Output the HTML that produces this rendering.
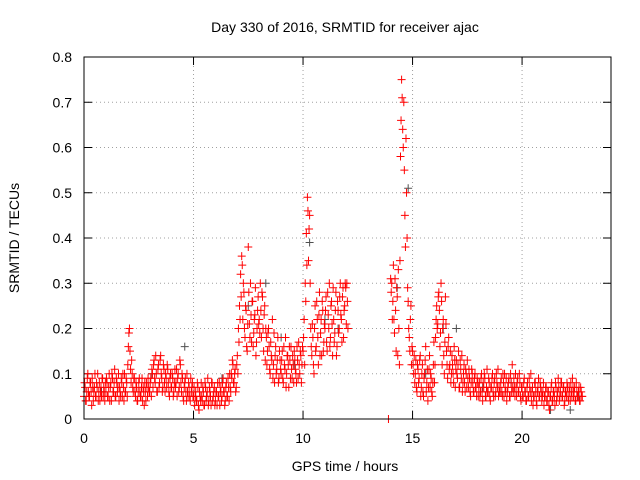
<!DOCTYPE html>
<html><head><meta charset="utf-8"><style>
html,body{margin:0;padding:0;background:#fff}
svg{display:block;font-family:"Liberation Sans",sans-serif}
</style></head><body>
<svg id="chart" width="640" height="480" viewBox="0 0 640 480" xmlns="http://www.w3.org/2000/svg">
<rect width="640" height="480" fill="#fff"/>
<text x="345" y="32" text-anchor="middle" font-size="14">Day 330 of 2016, SRMTID for receiver ajac</text>
<g id="grid"></g>
<g id="ticks"></g>
<g id="marks"></g>
<rect x="84" y="57" width="527" height="362" fill="none" stroke="#000" stroke-width="1"/>
<text x="345" y="471" text-anchor="middle" font-size="14">GPS time / hours</text>
<text x="0" y="0" transform="translate(19,238) rotate(-90)" text-anchor="middle" font-size="14">SRMTID / TECUs</text>
</svg>
<script>
const xTicks=[0,5,10,15,20];
const yTicks=[0,0.1,0.2,0.3,0.4,0.5,0.6,0.7,0.8];
const yTickLabels=["0","0.1","0.2","0.3","0.4","0.5","0.6","0.7","0.8"];
const redStart=0, redStep=0.05;
const redValues=[
0.05,0.07,0.04,0.09,0.06,0.05,0.08,0.03,0.07,0.06,0.1,0.05,0.07,0.04,0.08,0.06,0.05,0.09,0.07,0.04,
0.06,0.08,0.05,0.1,0.07,0.04,0.09,0.06,0.11,0.05,0.08,0.07,0.04,0.06,0.09,0.05,0.07,0.1,0.06,0.08,
0.12,0.19,0.15,0.08,0.1,0.06,0.09,0.05,0.07,0.04,0.08,0.06,0.05,0.09,0.07,0.03,0.06,0.08,0.05,0.07,
0.06,0.09,0.11,0.07,0.13,0.08,0.1,0.06,0.12,0.08,0.14,0.09,0.07,0.11,0.06,0.09,0.12,0.08,0.05,0.1,
0.07,0.09,0.06,0.11,0.08,0.05,0.1,0.07,0.12,0.06,0.09,0.04,0.08,0.06,0.1,0.05,0.07,0.04,0.06,0.08,
0.05,0.03,0.06,0.04,0.07,0.02,0.05,0.08,0.04,0.06,0.03,0.07,0.05,0.09,0.04,0.06,0.03,0.08,0.05,0.07,
0.04,0.06,0.08,0.05,0.03,0.07,0.05,0.09,0.06,0.04,0.08,0.05,0.07,0.1,0.06,0.09,0.12,0.08,0.11,0.07,
0.14,0.2,0.25,0.32,0.36,0.22,0.28,0.18,0.24,0.15,0.38,0.21,0.3,0.17,0.26,0.19,0.23,0.14,0.2,0.27,
0.22,0.3,0.18,0.27,0.15,0.25,0.2,0.12,0.19,0.16,0.1,0.14,0.22,0.12,0.08,0.16,0.11,0.18,0.09,0.13,
0.1,0.15,0.08,0.12,0.18,0.1,0.14,0.07,0.13,0.16,0.09,0.12,0.15,0.11,0.08,0.13,0.17,0.1,0.14,0.12,
0.15,0.22,0.3,0.41,0.49,0.35,0.45,0.2,0.14,0.18,0.1,0.25,0.16,0.22,0.12,0.28,0.19,0.14,0.24,0.17,
0.2,0.27,0.15,0.23,0.3,0.18,0.26,0.14,0.22,0.19,0.28,0.16,0.24,0.2,0.3,0.22,0.27,0.18,0.25,0.29,
0.3,0.2,null,null,null,null,null,null,null,null,null,null,null,null,null,null,null,null,null,null,
null,null,null,null,null,null,null,null,null,null,null,null,null,null,null,null,null,null,0,null,
0.31,0.3,0.26,0.22,0.31,0.15,0.27,0.33,0.12,0.58,0.75,0.64,0.7,0.45,0.62,0.4,0.26,0.18,0.22,0.12,
0.15,0.1,0.08,0.13,0.06,0.11,0.09,0.14,0.07,0.12,0.05,0.1,0.16,0.08,0.04,0.11,0.07,0.09,0.05,0.12,
0.08,0.18,0.25,0.21,0.28,0.16,0.3,0.12,0.22,0.1,0.27,0.15,0.09,0.18,0.12,0.08,0.14,0.1,0.16,0.07,
0.13,0.09,0.15,0.07,0.11,0.14,0.08,0.12,0.06,0.1,0.13,0.07,0.09,0.05,0.11,0.08,0.06,0.1,0.07,0.09,
0.05,0.08,0.06,0.1,0.04,0.07,0.09,0.05,0.11,0.06,0.08,0.04,0.07,0.1,0.05,0.09,0.06,0.08,0.11,0.07,
0.06,0.09,0.05,0.08,0.1,0.06,0.04,0.07,0.09,0.05,0.08,0.12,0.06,0.07,0.1,0.05,0.09,0.06,0.08,0.04,
0.07,0.05,0.09,0.06,0.04,0.08,0.05,0.07,0.1,0.06,0.03,0.05,0.08,0.04,0.06,0.09,0.05,0.07,0.04,0.06,
0.03,0.05,0.07,0.04,0.06,0.02,0.05,0.08,0.04,0.06,0.03,0.07,0.05,0.09,0.04,0.06,0.08,0.05,0.07,0.04,
0.06,0.08,0.05,0.07,0.04,0.06,0.09,0.05,0.07,0.04,0.06,0.05,0.07,0.04,0.06,0.05
];
const red2Start=0.025, red2Step=0.05;
const redValues2=[
0.08,0.04,0.06,0.1,0.05,0.08,0.06,0.09,0.04,0.07,0.05,0.08,0.1,0.06,0.04,0.07,0.09,0.05,0.06,0.08,
0.09,0.05,0.07,0.04,0.08,0.1,0.06,0.08,0.05,0.09,0.06,0.1,0.07,0.05,0.08,0.1,0.04,0.06,0.09,0.05,
0.16,0.2,0.11,0.13,0.07,0.09,0.06,0.08,0.04,0.06,0.09,0.05,0.07,0.04,0.06,0.08,0.04,0.07,0.09,0.06,
0.08,0.05,0.1,0.12,0.09,0.14,0.06,0.11,0.07,0.13,0.1,0.06,0.12,0.08,0.1,0.07,0.11,0.06,0.09,0.07,
0.1,0.05,0.08,0.07,0.11,0.09,0.06,0.13,0.08,0.1,0.05,0.07,0.09,0.04,0.06,0.08,0.05,0.09,0.07,0.05,
0.07,0.05,0.04,0.08,0.03,0.06,0.04,0.05,0.07,0.03,0.08,0.04,0.06,0.03,0.07,0.05,0.08,0.04,0.06,0.03,
0.06,0.03,0.05,0.08,0.06,0.04,0.08,0.06,0.03,0.07,0.05,0.09,0.04,0.07,0.1,0.13,0.08,0.1,0.06,0.12,
0.1,0.17,0.22,0.27,0.34,0.3,0.2,0.25,0.16,0.21,0.28,0.18,0.23,0.26,0.16,0.22,0.29,0.17,0.24,0.21,
0.19,0.24,0.28,0.2,0.23,0.13,0.18,0.15,0.2,0.11,0.17,0.13,0.09,0.19,0.14,0.1,0.13,0.08,0.15,0.11,
0.13,0.09,0.16,0.11,0.07,0.14,0.12,0.16,0.09,0.11,0.14,0.08,0.13,0.1,0.16,0.09,0.12,0.15,0.08,0.16,
0.18,0.12,0.26,0.34,0.46,0.42,0.3,0.16,0.21,0.12,0.2,0.15,0.26,0.18,0.23,0.14,0.22,0.26,0.15,0.21,
0.24,0.17,0.28,0.2,0.16,0.25,0.21,0.29,0.17,0.24,0.14,0.26,0.19,0.27,0.23,0.17,0.29,0.24,0.3,0.21,
0.26,null,null,null,null,null,null,null,null,null,null,null,null,null,null,null,null,null,null,null,
null,null,null,null,null,null,null,null,null,null,null,null,null,null,null,null,null,null,null,null,
0.28,0.22,0.34,0.19,0.24,0.29,0.14,0.2,0.35,0.66,0.71,0.6,0.55,0.38,0.5,0.29,0.2,0.15,0.25,0.16,
0.12,0.14,0.1,0.07,0.12,0.08,0.13,0.05,0.1,0.06,0.09,0.13,0.06,0.11,0.07,0.14,0.1,0.06,0.08,0.17,
0.12,0.22,0.2,0.27,0.24,0.19,0.26,0.2,0.14,0.17,0.21,0.12,0.16,0.11,0.15,0.1,0.12,0.08,0.13,0.11,
0.1,0.12,0.07,0.13,0.09,0.06,0.1,0.08,0.11,0.07,0.09,0.11,0.06,0.08,0.1,0.06,0.09,0.07,0.05,0.08,
0.07,0.05,0.09,0.06,0.08,0.1,0.05,0.07,0.06,0.09,0.05,0.07,0.09,0.06,0.08,0.05,0.1,0.07,0.05,0.06,
0.08,0.06,0.1,0.05,0.07,0.09,0.06,0.08,0.05,0.1,0.06,0.07,0.09,0.05,0.07,0.08,0.06,0.1,0.05,0.07,
0.05,0.08,0.06,0.04,0.07,0.05,0.09,0.06,0.04,0.07,0.05,0.08,0.06,0.03,0.07,0.05,0.08,0.06,0.05,0.08,
0.05,0.07,0.04,0.06,0.03,0.05,0.07,0.04,0.06,0.05,0.08,0.04,0.06,0.07,0.05,0.08,0.05,0.07,0.03,0.06,
0.05,0.07,0.04,0.06,0.08,0.05,0.07,0.06,0.04,0.08,0.05,0.06,0.04,0.07,0.05
];
const grayTimes=[0.8,3.1,4.6,5.6,6.3,7.5,8.3,9.0,9.6,10.3,11.0,11.6,14.3,14.8,15.6,16.4,17.0,18.2,19.5,21.3,22.2,22.6];
const grayValues=[0.06,0.1,0.16,0.05,0.09,0.25,0.3,0.18,0.12,0.39,0.22,0.2,0.29,0.51,0.1,0.2,0.2,0.07,0.08,0.02,0.02,0.05];

const X0=84,X1=611,Y0=419,Y1=57,XMAX=24.06,YMAX=0.8;
function xs(t){return X0+(X1-X0)*t/XMAX;}
function ys(v){return Y0-(Y0-Y1)*v/YMAX;}
const NS="http://www.w3.org/2000/svg";
const grid=document.getElementById('grid'),ticks=document.getElementById('ticks'),marks=document.getElementById('marks');
function mk(tag,attrs,parent){const e=document.createElementNS(NS,tag);for(const k in attrs)e.setAttribute(k,attrs[k]);parent.appendChild(e);return e;}
yTicks.forEach((v,i)=>{
  const y=ys(v);
  if(i>0&&i<yTicks.length-1){const g=mk('line',{x1:X0,x2:X1,y1:y,y2:y,stroke:'#a0a0a0','stroke-dasharray':'1,3'},grid);
  
  }
  const t1=mk('line',{x1:X0,x2:X0+8,y1:y,y2:y,stroke:'#000'},ticks);
  
  
  const t2=mk('line',{x1:X1-8,x2:X1,y1:y,y2:y,stroke:'#000'},ticks);
  
  
  const l=mk('text',{x:72,y:y+5,'text-anchor':'end','font-size':'14'},ticks);l.textContent=yTickLabels[i];
  
  
});
xTicks.forEach(t=>{
  const x=xs(t);
  if(t>0){const g=mk('line',{x1:x,x2:x,y1:Y0,y2:Y1,stroke:'#a0a0a0','stroke-dasharray':'1,3'},grid);
  
  }
  const t1=mk('line',{x1:x,x2:x,y1:Y0,y2:Y0-8,stroke:'#000'},ticks);
  
  
  const t2=mk('line',{x1:x,x2:x,y1:Y1,y2:Y1+8,stroke:'#000'},ticks);
  
  
  const l=mk('text',{x:x,y:443,'text-anchor':'middle','font-size':'14'},ticks);l.textContent=String(t);
  
  
});
function plus(x,y,color,parent){return mk('path',{d:`M${x-4} ${y}H${x+4}M${x} ${y-4}V${y+4}`,stroke:color,'stroke-width':'1',fill:'none'},parent);}
grayTimes.forEach((t,i)=>{
  const p=plus(xs(t),ys(grayValues[i]),'#505050',marks);
  
  
});
redValues.forEach((v,i)=>{
  if(v===null)return;
  const p=plus(xs(redStart+i*redStep),ys(v),'#ff0000',marks);
  
  
});
redValues2.forEach((v,i)=>{
  if(v===null)return;
  const p=plus(xs(red2Start+i*red2Step),ys(v),'#ff0000',marks);
  
  
});
</script>
</body></html>
